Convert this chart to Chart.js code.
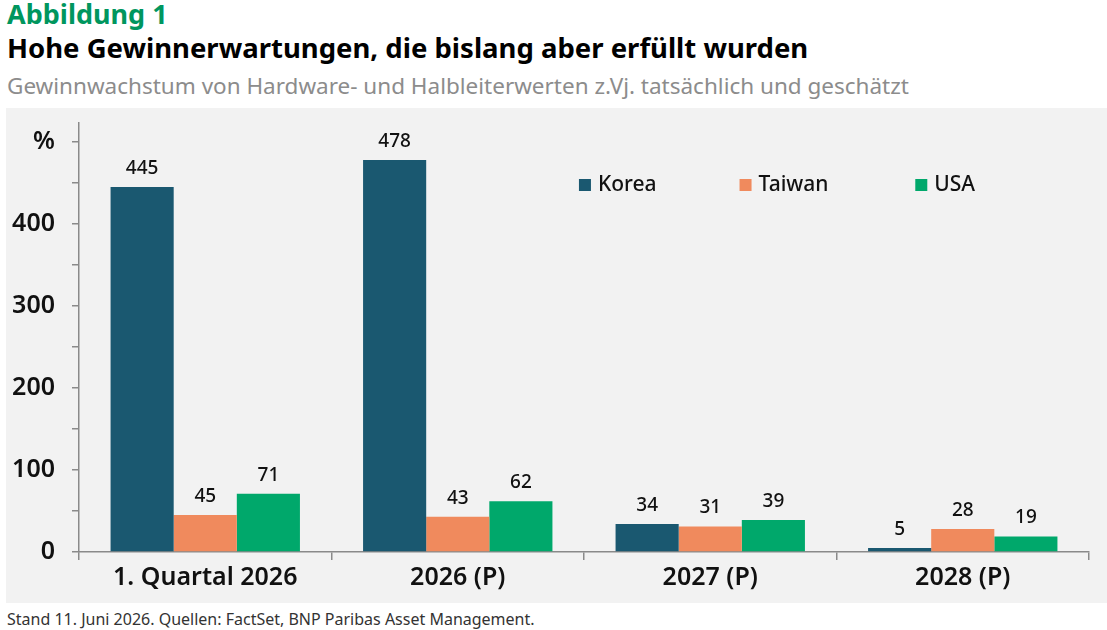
<!DOCTYPE html>
<html lang="de">
<head>
<meta charset="utf-8">
<script src="https://cdn.jsdelivr.net/npm/chart.js@4.4.1/dist/chart.umd.min.js"></script>
<style>
  body { margin: 0; width: 1107px; height: 630px; background: #fff; font-family: "Noto Sans", sans-serif; position: relative; overflow: hidden; }
  .label { position: absolute; left: 7px; top: -5px; font-size: 27px; font-weight: bold; color: #00965e; }
  .title { position: absolute; left: 7px; top: 29px; font-size: 27.5px; font-weight: bold; color: #000; }
  .subtitle { position: absolute; left: 7px; top: 70px; font-size: 22.5px; color: #8c8c8c; }
  .chart-box { position: absolute; left: 6px; top: 108px; width: 1101px; height: 495px; background: #f2f2f2; }
  .source { position: absolute; left: 7px; top: 608px; font-size: 16px; color: #333; }
</style>
</head>
<body>
<div class="label">Abbildung 1</div>
<div class="title">Hohe Gewinnerwartungen, die bislang aber erfüllt wurden</div>
<div class="subtitle">Gewinnwachstum von Hardware- und Halbleiterwerten z.Vj. tatsächlich und geschätzt</div>
<div class="chart-box"><canvas id="growthChart"></canvas></div>
<div class="source">Stand 11. Juni 2026. Quellen: FactSet, BNP Paribas Asset Management.</div>

<script>
// Kategorien und Werte (in %)
const categories = ['1. Quartal 2026', '2026 (P)', '2027 (P)', '2028 (P)'];
const korea = [445, 478, 34, 5];
const taiwan = [45, 43, 31, 28];
const usa = [71, 62, 39, 19];
const seriesNames = ['Korea', 'Taiwan', 'USA'];
const seriesColors = ['#1a5870', '#f08a5d', '#00a86b'];
const yTicks = [0, 100, 200, 300, 400];

const FONT = '"Noto Sans", sans-serif';

// Werte über den Balken
const valueLabels = {
    id: 'valueLabels',
    afterDatasetsDraw(chart) {
        const ctx = chart.ctx;
        ctx.save();
        ctx.font = '500 19px ' + FONT;
        ctx.fillStyle = '#111';
        ctx.textAlign = 'center';
        ctx.textBaseline = 'bottom';
        chart.data.datasets.forEach((ds, i) => {
            chart.getDatasetMeta(i).data.forEach((bar, j) => {
                ctx.fillText(ds.data[j], bar.x, bar.y - 9);
            });
        });
        ctx.restore();
    }
};

// Legende im Diagrammbereich
const innerLegend = {
    id: 'innerLegend',
    afterDraw(chart) {
        const ctx = chart.ctx;
        const area = chart.chartArea;
        const w = area.right - area.left;
        const pos = [0.495, 0.654, 0.828];
        const y = area.top + 62;
        ctx.save();
        ctx.font = '500 21px ' + FONT;
        ctx.textBaseline = 'middle';
        ctx.textAlign = 'left';
        chart.data.datasets.forEach((ds, i) => {
            const x = area.left + w * pos[i];
            ctx.fillStyle = ds.backgroundColor;
            ctx.fillRect(x, y - 6, 12, 12);
            ctx.fillStyle = '#111';
            ctx.fillText(ds.label, x + 19, y);
        });
        ctx.restore();
    }
};

const ctx = document.getElementById('growthChart').getContext('2d');
new Chart(ctx, {
    type: 'bar',
    data: {
        labels: categories,
        datasets: [
            { label: seriesNames[0], data: korea, backgroundColor: seriesColors[0] },
            { label: seriesNames[1], data: taiwan, backgroundColor: seriesColors[1] },
            { label: seriesNames[2], data: usa, backgroundColor: seriesColors[2] }
        ]
    },
    options: {
        responsive: true,
        maintainAspectRatio: false,
        animation: false,
        layout: { padding: { top: 15, right: 18, left: 0, bottom: 0 } },
        datasets: { bar: { categoryPercentage: 0.75, barPercentage: 1.0 } },
        plugins: {
            legend: { display: false },
            tooltip: { enabled: false }
        },
        scales: {
            x: {
                afterFit: (scale) => { scale.height = 51; },
                border: { color: '#8a8a8a', width: 1.5 },
                grid: { offset: true, drawOnChartArea: false, drawTicks: true, tickLength: 8, color: '#8a8a8a', lineWidth: 1.5 },
                ticks: { color: '#111', font: { family: FONT, size: 25, weight: '600' }, padding: 3 }
            },
            y: {
                min: 0,
                max: 523,
                afterFit: (scale) => {
                    scale.width = 73;
                    scale.paddingTop = 0;
                    scale.paddingBottom = 0;
                },
                border: { color: '#8a8a8a', width: 1.5 },
                grid: { drawOnChartArea: false, drawTicks: true, tickLength: 7, color: '#8a8a8a', lineWidth: 1.5 },
                ticks: {
                    stepSize: 50,
                    includeBounds: false,
                    autoSkip: false,
                    padding: 17,
                    color: '#111',
                    font: { family: FONT, size: 25, weight: '600' },
                    callback: (v) => {
                        if (v === 500) return '%';
                        return yTicks.includes(v) ? v : '';
                    }
                }
            }
        }
    },
    plugins: [valueLabels, innerLegend]
});
</script>
</body>
</html>
